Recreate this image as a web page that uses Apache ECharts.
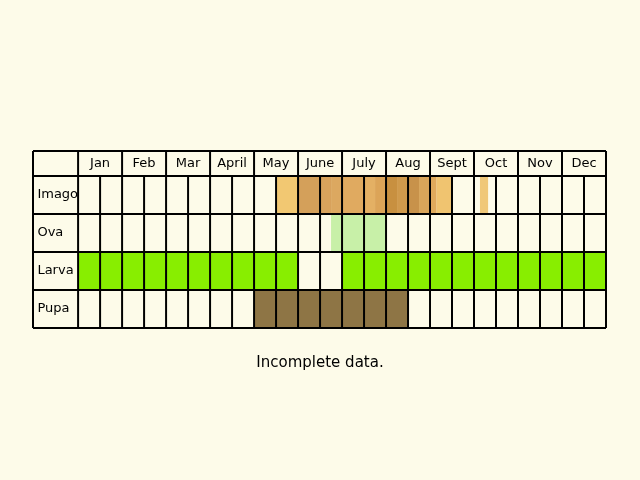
<!DOCTYPE html><html><head><meta charset="utf-8"><script src="https://cdn.jsdelivr.net/npm/echarts@6/dist/echarts.min.js"></script></head><body style="margin:0;background:#fdfbe9"><div id="c" style="width:640px;height:480px"></div><script>
var months=['Jan','Feb','Mar','April','May','June','July','Aug','Sept','Oct','Nov','Dec'];
var stages=['Imago','Ova','Larva','Pupa'];
// [startHalfMonth, endHalfMonth, stageIndex, color]
var imago=[[9,10,'#f2c872'],[10,11,'#d4a05a'],[11,11.5,'#d8a25c'],[11.5,12,'#dca860'],[12,13,'#e0aa60'],[13,13.5,'#e4b064'],[13.5,14,'#dca458'],[14,14.5,'#c89040'],[14.5,15,'#d09a4c'],[15,15.5,'#c8924a'],[15.5,16,'#d8a45a'],[16,16.3,'#e0aa5c'],[16.3,17,'#f0c470'],[18.27,18.64,'#f0c878']];
var ova=[[11.5,14,'#c8f0a8']];
var larva=[[0,10,'#88ee00'],[12,24,'#88ee00']];
var pupa=[[8,15,'#8e7545']];
var caption='Incomplete data.';
var fills=[];
[imago,ova,larva,pupa].forEach(function(a,s){a.forEach(function(d){fills.push([d[0],d[1],s,d[2]]);});});
var ROWH=1, HDR=0.66, LBL=2.05;
function yTop(s){return 4-s;} // row s spans [3-s,4-s]
var chart=echarts.init(document.getElementById('c'));
chart.setOption({backgroundColor:'#fdfbe9',animation:false,
grid:{left:33,right:34,top:151,bottom:152},
xAxis:{type:'value',min:-LBL,max:24,show:false},
yAxis:{type:'value',min:0,max:4+HDR,show:false},
graphic:[{type:'text',left:'center',top:356,style:{text:caption,font:'15px "DejaVu Sans", sans-serif',fill:'#000'}}],
series:[
{type:'custom',data:fills,renderItem:function(p,api){var a=api.coord([api.value(0),yTop(api.value(2))]),b=api.coord([api.value(1),yTop(api.value(2))-1]);
return {type:'rect',shape:{x:a[0],y:a[1],width:b[0]-a[0],height:b[1]-a[1]},style:{fill:fills[p.dataIndex][3]}};}},
{type:'custom',data:[0],renderItem:function(p,api){var ch=[];var st={stroke:'#000',lineWidth:2};
function L(x1,y1,x2,y2){var a=api.coord([x1,y1]),b=api.coord([x2,y2]);ch.push({type:'line',shape:{x1:a[0],y1:a[1],x2:b[0],y2:b[1]},style:st});}
for(var r=0;r<=4;r++)L(-LBL,r,24,r);L(-LBL,4+HDR,24,4+HDR);
L(-LBL,0,-LBL,4+HDR);
for(var i=0;i<=24;i++){L(i,0,i,i%2==0?4+HDR:4);}
months.forEach(function(m,k){var c=api.coord([2*k+1,4+HDR/2]);ch.push({type:'text',x:c[0],y:c[1],style:{text:m,align:'center',verticalAlign:'middle',font:'13px "DejaVu Sans", sans-serif',fill:'#000'}});});
stages.forEach(function(s,k){var c=api.coord([-LBL+0.2,3.5-k]);ch.push({type:'text',x:c[0],y:c[1],style:{text:s,align:'left',verticalAlign:'middle',font:'13px "DejaVu Sans", sans-serif',fill:'#000'}});});
return {type:'group',children:ch};}}
]});
</script></body></html>
